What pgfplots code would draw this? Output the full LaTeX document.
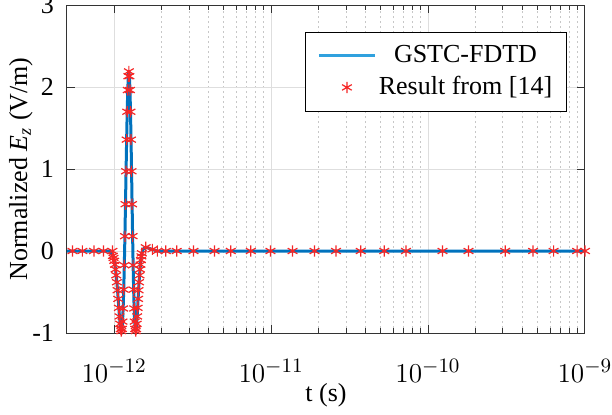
\documentclass[border=0pt]{standalone}
\usepackage{fontspec}
\setmainfont{Liberation Serif}
\usepackage{pgfplots}
\pgfplotsset{compat=1.18}
\definecolor{lineblue}{rgb}{0,0.447,0.741}
\definecolor{legblue}{rgb}{0.19,0.63,0.87}
\definecolor{mred}{rgb}{0.96,0.15,0.15}
\begin{document}
\fontsize{13bp}{15.6bp}\selectfont
\begin{tikzpicture}
\path[use as bounding box] (-33.5bp,-41bp) rectangle (272.5bp,166.5bp);
\begin{axis}[
  at={(0,0)}, anchor=south west,
  scale only axis, width=259bp, height=164bp,
  xmode=log, xmin=5e-13, xmax=1e-9,
  ymin=-1, ymax=3,
  xtick={1e-12,1e-11,1e-10,1e-9},
  ytick={-1,0,1,2,3}, yticklabels={-1,0,1,2,3},
  grid=both,
  major grid style={black!13, line width=0.5bp},
  minor grid style={black!22, dash pattern=on 1bp off 1.5bp, line width=0.5bp},
  axis line style={black!80, line width=0.5bp},
  tick style={black!80, line width=0.5bp},
  major tick length=4bp, minor tick length=2.5bp,
  tick align=inside,
  yticklabel style={xshift=-2bp},
  xticklabel style={scale=1.14, yshift=-7bp},
  xlabel={t (s)},
  ylabel={Normalized \textit{E}\textsubscript{\textit{z}} (V/m)},
  xlabel style={at={(axis description cs:0.5,-0.189)}, anchor=center},
  ylabel style={at={(axis description cs:-0.0888,0.5)}, anchor=center},
  legend cell align=center,
  legend style={at={(0.9653,0.9186)}, anchor=north east,
    draw=black, line width=0.5bp, fill=white,
    inner xsep=6bp, inner ysep=5bp, row sep=2bp, column sep=0bp,
    nodes={inner xsep=0bp, inner ysep=1.5bp}},
]
\addlegendimage{legend image code/.code={\draw[legblue, line width=1.6bp] (0bp,0bp) -- (28bp,0bp);}}
\addlegendentry{\makebox[89bp][c]{GSTC-FDTD}}
\addlegendimage{legend image code/.code={\draw[mred, line width=0.6bp] plot[mark=asterisk, mark size=2.8bp] coordinates {(14bp,0bp)};}}
\addlegendentry{\makebox[89bp][c]{Result from [14]}}

\addplot[lineblue, line width=1.5bp, line join=round, forget plot] coordinates {
(5e-13,0) (9.5e-13,0) (9.6e-13,-0.026) (9.8e-13,-0.059) (1.00e-12,-0.120)
(1.01e-12,-0.166) (1.02e-12,-0.224) (1.03e-12,-0.296) (1.04e-12,-0.381)
(1.05e-12,-0.478) (1.06e-12,-0.584) (1.07e-12,-0.693) (1.08e-12,-0.798)
(1.09e-12,-0.888) (1.10e-12,-0.952) (1.11e-12,-0.977) (1.12e-12,-0.950)
(1.13e-12,-0.861) (1.14e-12,-0.701) (1.15e-12,-0.471) (1.16e-12,-0.173)
(1.17e-12,0.181) (1.18e-12,0.571) (1.19e-12,0.973) (1.20e-12,1.358)
(1.21e-12,1.698) (1.22e-12,1.963) (1.23e-12,2.132) (1.24e-12,2.19)
(1.25e-12,2.132) (1.26e-12,1.963) (1.27e-12,1.698) (1.28e-12,1.358)
(1.29e-12,0.973) (1.30e-12,0.571) (1.31e-12,0.181) (1.32e-12,-0.173)
(1.33e-12,-0.471) (1.34e-12,-0.701) (1.35e-12,-0.861) (1.36e-12,-0.950)
(1.37e-12,-0.977) (1.38e-12,-0.952) (1.39e-12,-0.888) (1.40e-12,-0.798)
(1.41e-12,-0.693) (1.42e-12,-0.584) (1.43e-12,-0.478) (1.44e-12,-0.381)
(1.45e-12,-0.296) (1.46e-12,-0.224) (1.47e-12,-0.166) (1.48e-12,-0.110)
(1.49e-12,-0.065) (1.50e-12,-0.028) (1.52e-12,0.010) (1.55e-12,0.035)
(1.59e-12,0.045) (1.75e-12,0.02) (1.88e-12,0.0) (1e-9,0)
};

\addplot[only marks, mark=asterisk, mark size=2.8bp, mred, mark options={line width=0.6bp}, forget plot] coordinates {
(5.42e-13,0) (6.27e-13,0) (7.43e-13,0) (8.54e-13,0) (9.74e-13,0)
(9.8e-13,-0.059) (0.99e-12,-0.085) (1.00e-12,-0.120)
(1.01e-12,-0.166) (1.02e-12,-0.224) (1.03e-12,-0.296) (1.04e-12,-0.381)
(1.05e-12,-0.478) (1.06e-12,-0.584) (1.07e-12,-0.693) (1.08e-12,-0.798)
(1.09e-12,-0.888) (1.10e-12,-0.952) (1.11e-12,-0.977) (1.12e-12,-0.950)
(1.13e-12,-0.861) (1.14e-12,-0.701) (1.15e-12,-0.471) (1.16e-12,-0.173)
(1.17e-12,0.181) (1.18e-12,0.571) (1.19e-12,0.973) (1.20e-12,1.358)
(1.21e-12,1.698) (1.22e-12,1.963) (1.23e-12,2.132) (1.24e-12,2.19)
(1.25e-12,2.132) (1.26e-12,1.963) (1.27e-12,1.698) (1.28e-12,1.358)
(1.29e-12,0.973) (1.30e-12,0.571) (1.31e-12,0.181) (1.32e-12,-0.173)
(1.33e-12,-0.471) (1.34e-12,-0.701) (1.35e-12,-0.861) (1.36e-12,-0.950)
(1.37e-12,-0.977) (1.38e-12,-0.952) (1.39e-12,-0.888) (1.40e-12,-0.798)
(1.41e-12,-0.693) (1.42e-12,-0.584) (1.43e-12,-0.478) (1.44e-12,-0.381)
(1.45e-12,-0.296) (1.46e-12,-0.224) (1.47e-12,-0.166) (1.48e-12,-0.110)
(1.49e-12,-0.065) (1.50e-12,-0.028)
(1.587e-12,0.045) (1.751e-12,0.02) (1.884e-12,0)
(2.13e-12,0) (2.50e-12,0) (3.20e-12,0) (4.36e-12,0) (5.53e-12,0)
(7.42e-12,0) (9.9e-12,0) (1.37e-11,0) (1.89e-11,0) (2.59e-11,0)
(3.72e-11,0) (5.26e-11,0) (7.23e-11,0) (1.236e-10,0) (1.81e-10,0)
(3.10e-10,0) (4.67e-10,0) (6.31e-10,0) (8.91e-10,0) (1e-9,0)
};
\end{axis}
\end{tikzpicture}
\end{document}
